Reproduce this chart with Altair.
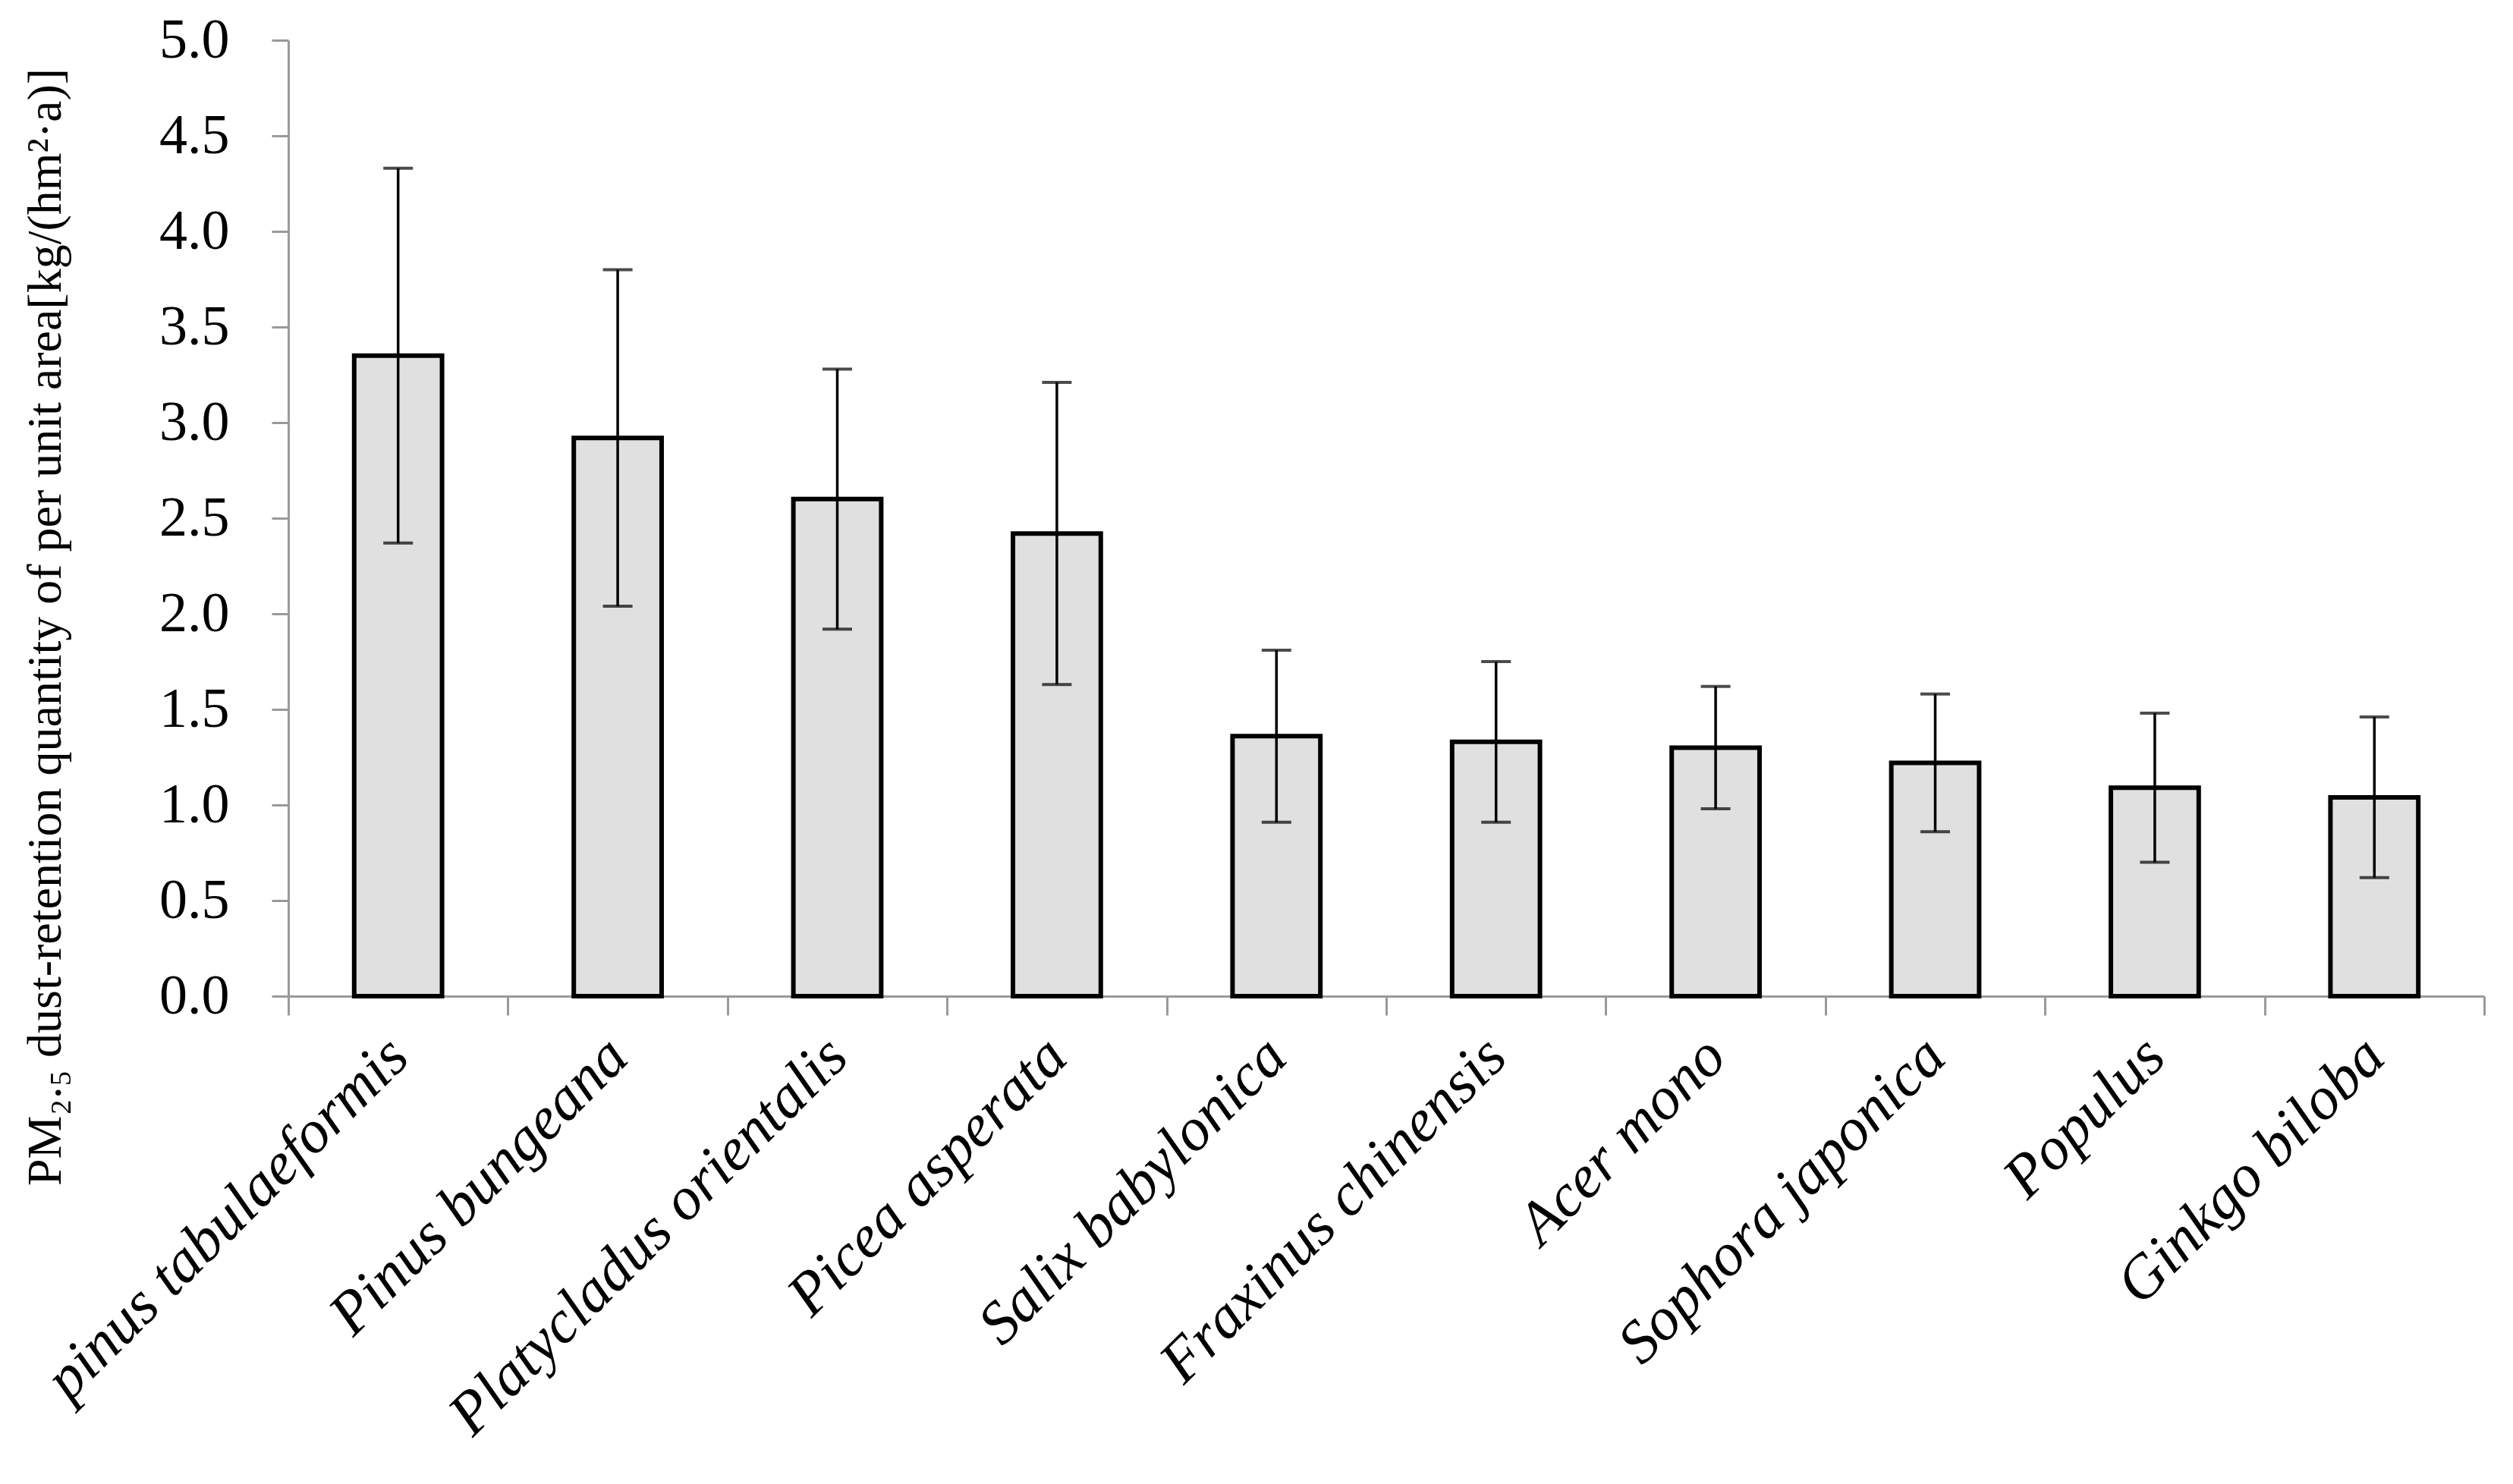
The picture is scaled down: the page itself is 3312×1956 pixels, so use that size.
import altair as alt
import pandas as pd

species = ["pinus tabulaeformis", "Pinus bungeana", "Platycladus orientalis", "Picea asperata",
           "Salix babylonica", "Fraxinus chinensis", "Acer mono", "Sophora japonica",
           "Populus", "Ginkgo biloba"]
means = [3.35, 2.92, 2.60, 2.42, 1.36, 1.33, 1.30, 1.22, 1.09, 1.04]
errors = [0.98, 0.88, 0.68, 0.79, 0.45, 0.42, 0.32, 0.36, 0.39, 0.42]
y_ticks = [0.0, 0.5, 1.0, 1.5, 2.0, 2.5, 3.0, 3.5, 4.0, 4.5, 5.0]
y_title = "PM\u2082.\u2085 dust-retention  quantity  of per unit  area[kg/(hm\u00b2\u00b7a)]"

df = pd.DataFrame({
    "species": species,
    "mean": means,
    "lo": [m - e for m, e in zip(means, errors)],
    "hi": [m + e for m, e in zip(means, errors)],
})

AX = "#9a9a9a"
FONT = "Liberation Serif"

x_axis = alt.Axis(
    title=None, labelAngle=-45, labelAlign="right", labelBaseline="middle",
    labelFont=FONT, labelFontStyle="italic", labelFontSize=80, labelColor="black",
    labelPadding=42, labelLimit=3000, labelOverlap=False, labelFlush=False,
    tickBand="extent", tickSize=25, tickColor=AX, tickWidth=3,
    domainColor=AX, domainWidth=3,
)
x_enc = alt.X("species:N", sort=species,
              scale=alt.Scale(paddingInner=0, paddingOuter=0), axis=x_axis)

y_scale = alt.Scale(domain=[0, 5], nice=False)
y_axis = alt.Axis(
    values=y_ticks, format=".1f", grid=False,
    labelFont=FONT, labelFontSize=74, labelColor="black", labelPadding=56,
    tickSize=22, tickColor=AX, tickWidth=3, domainColor=AX, domainWidth=3,
    title=y_title, titleFont=FONT, titleFontSize=64, titleFontWeight="normal",
    titleColor="black", titleAngle=270, titleAlign="center", titleBaseline="alphabetic",
    titleX=-301, titleY=773,
)

bars = alt.Chart(df).mark_bar(
    width=alt.RelativeBandSize(0.4), fill="#e0e0e0", stroke="black", strokeWidth=6
).encode(
    x=x_enc,
    y=alt.Y("mean:Q", scale=y_scale, axis=y_axis),
)

rules = alt.Chart(df).mark_rule(color="black", strokeWidth=3.5).encode(
    x=x_enc,
    y=alt.Y("lo:Q", scale=y_scale, axis=y_axis),
    y2="hi:Q",
)

caps_hi = alt.Chart(df).mark_tick(color="black", size=39, thickness=4).encode(
    x=x_enc,
    y=alt.Y("hi:Q", scale=y_scale, axis=y_axis),
)
caps_lo = alt.Chart(df).mark_tick(color="black", size=39, thickness=4).encode(
    x=x_enc,
    y=alt.Y("lo:Q", scale=y_scale, axis=y_axis),
)

chart = alt.layer(bars, rules, caps_hi, caps_lo).properties(
    width=2894, height=1260,
    autosize=alt.AutoSizeParams(type="none"),
    padding={"left": 372, "top": 45, "right": 30, "bottom": 643},
    background="white",
).configure_view(stroke=None)

chart.save("out.html", embed_options={"renderer": "svg", "actions": False})
